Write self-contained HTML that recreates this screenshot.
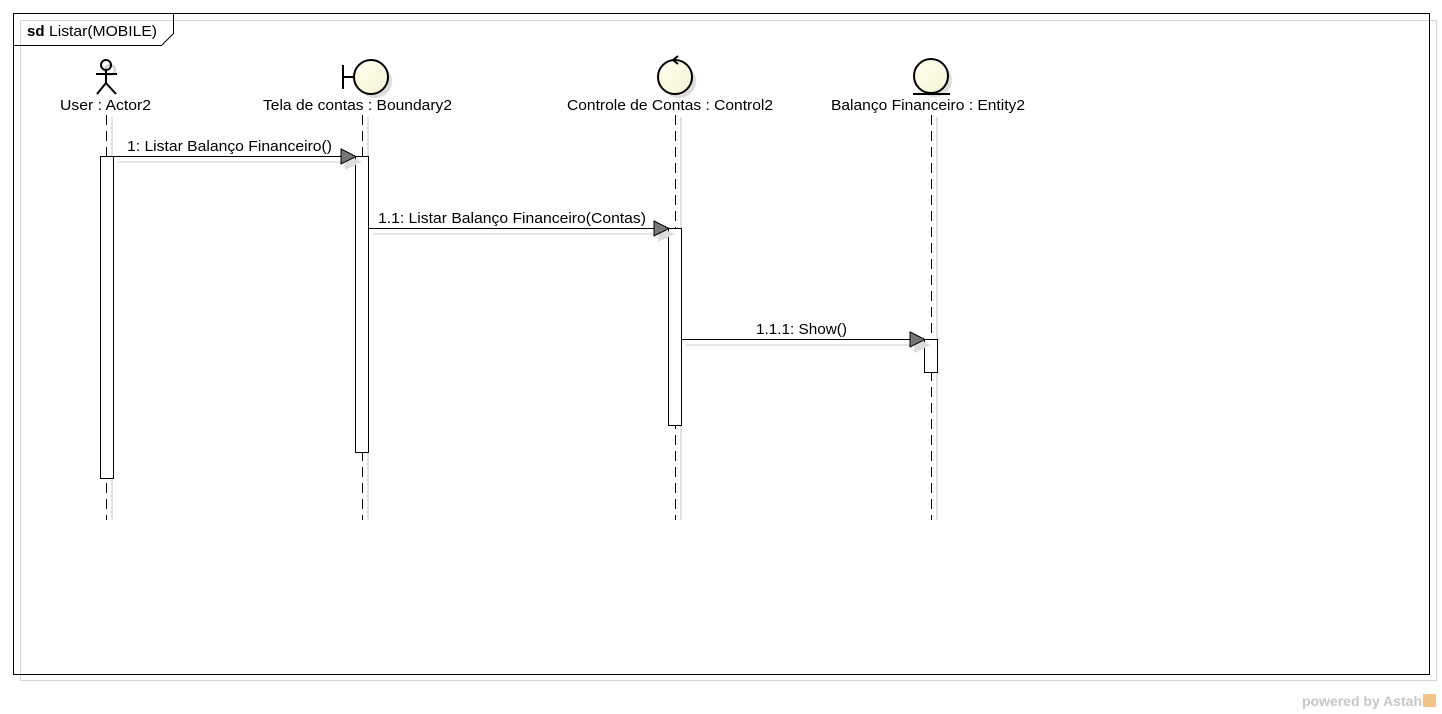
<!DOCTYPE html>
<html><head><meta charset="utf-8"><style>
html,body{margin:0;padding:0;background:#fff;}
svg{display:block;font-family:"Liberation Sans",sans-serif;}
</style></head><body>
<svg width="1442" height="714" viewBox="0 0 1442 714">
<defs>
<linearGradient id="g" x1="0" y1="0" x2="1" y2="1"><stop offset="0" stop-color="#fffff4"/><stop offset="1" stop-color="#f6f3cf"/></linearGradient>
</defs>
<rect x="20.5" y="20.5" width="1416" height="660" fill="none" stroke="#d4d4d4"/>
<rect x="13.5" y="13.5" width="1416" height="661" fill="none" stroke="#000"/>
<path d="M13.5 45.5 H161.5 L173.5 33.5 V13.5" fill="none" stroke="#000"/>
<text x="27" y="36" font-size="15" font-weight="bold">sd</text>
<text x="49" y="36" font-size="15" textLength="108" lengthAdjust="spacingAndGlyphs">Listar(MOBILE)</text>

<g stroke="#d8d8d8" stroke-width="1.5">
<line x1="112" y1="117" x2="112" y2="520"/><line x1="368" y1="117" x2="368" y2="520"/>
<line x1="681" y1="117" x2="681" y2="520"/><line x1="937" y1="117" x2="937" y2="520"/>
</g>
<g stroke="#000" stroke-dasharray="10,6">
<line x1="106.5" y1="115" x2="106.5" y2="520"/><line x1="362.5" y1="115" x2="362.5" y2="520"/>
<line x1="675.5" y1="115" x2="675.5" y2="520"/><line x1="931.5" y1="115" x2="931.5" y2="520"/>
</g>

<g stroke="#ccc" stroke-width="2" fill="none"><circle cx="110" cy="70" r="5"/></g>
<g stroke="#000" stroke-width="2" fill="none">
<circle cx="106" cy="65" r="5"/><line x1="106" y1="70" x2="106" y2="83"/><line x1="96" y1="74" x2="117" y2="74"/>
<line x1="106" y1="83" x2="97" y2="94"/><line x1="106" y1="83" x2="116" y2="94"/></g>
<circle cx="375" cy="81" r="17" fill="#ddd"/>
<circle cx="371" cy="77" r="17" fill="url(#g)" stroke="#000" stroke-width="2"/>
<line x1="343" y1="65" x2="343" y2="89" stroke="#000" stroke-width="2"/><line x1="343" y1="77" x2="354" y2="77" stroke="#000" stroke-width="2"/>
<circle cx="679" cy="81" r="17" fill="#ddd"/>
<circle cx="675" cy="77" r="17" fill="url(#g)" stroke="#000" stroke-width="2"/>
<path d="M678 56 L673 60 L678 64" fill="none" stroke="#000" stroke-width="2"/>
<circle cx="935" cy="80" r="17" fill="#ddd"/>
<circle cx="931" cy="76" r="17" fill="url(#g)" stroke="#000" stroke-width="2"/>
<line x1="913" y1="94" x2="950" y2="94" stroke="#000" stroke-width="2"/>

<g font-size="15" lengthAdjust="spacingAndGlyphs">
<text x="60" y="110" textLength="91" lengthAdjust="spacingAndGlyphs">User : Actor2</text>
<text x="263" y="110" textLength="189" lengthAdjust="spacingAndGlyphs">Tela de contas : Boundary2</text>
<text x="567" y="110" textLength="206" lengthAdjust="spacingAndGlyphs">Controle de Contas : Control2</text>
<text x="831" y="110" textLength="194" lengthAdjust="spacingAndGlyphs">Balanço Financeiro : Entity2</text>
</g>

<g fill="#fff" stroke="#000">
<rect x="100.5" y="156.5" width="13" height="322"/>
<rect x="355.5" y="156.5" width="13" height="296"/>
<rect x="668.5" y="228.5" width="13" height="197"/>
<rect x="924.5" y="339.5" width="13" height="33"/>
</g>

<g stroke="#ddd" stroke-width="1.5"><line x1="118" y1="162" x2="355" y2="162"/><line x1="373" y1="234" x2="668" y2="234"/><line x1="686" y1="345" x2="924" y2="345"/></g>
<g fill="#ddd"><path d="M345 155 L362 162 L345 170Z"/><path d="M658 227 L675 234 L658 242Z"/><path d="M914 338 L931 345 L914 353Z"/></g>
<g stroke="#000"><line x1="113" y1="156.5" x2="345" y2="156.5"/><line x1="368" y1="228.5" x2="658" y2="228.5"/><line x1="681" y1="339.5" x2="914" y2="339.5"/></g>
<g fill="#777" stroke="#000"><path d="M341 149 L356 156.5 L341 164Z"/><path d="M654 221 L669 228.5 L654 236Z"/><path d="M910 332 L925 339.5 L910 347Z"/></g>
<g font-size="15">
<text x="127" y="151" textLength="205" lengthAdjust="spacingAndGlyphs">1: Listar Balanço Financeiro()</text>
<text x="378" y="223" textLength="268" lengthAdjust="spacingAndGlyphs">1.1: Listar Balanço Financeiro(Contas)</text>
<text x="756" y="334" textLength="91" lengthAdjust="spacingAndGlyphs">1.1.1: Show()</text>
</g>

<text x="1422" y="706" font-size="14" font-weight="bold" fill="#c8c8c8" text-anchor="end">powered by Astah</text>
<rect x="1423" y="694" width="13" height="13" fill="#f3c48a"/>
</svg>
</body></html>
